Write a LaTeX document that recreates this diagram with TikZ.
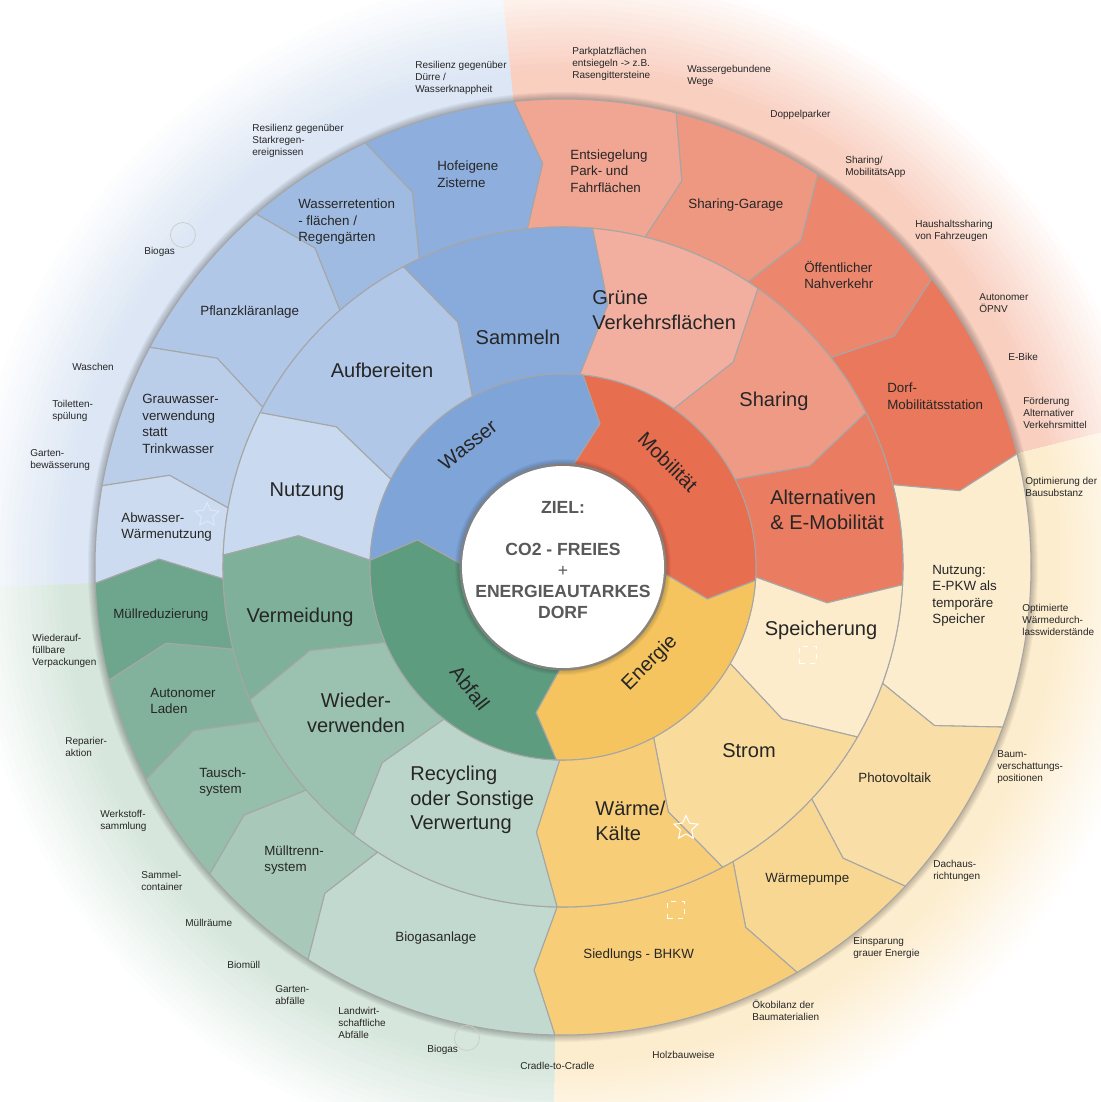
\documentclass[tikz,border=0pt]{standalone}
\usepackage{fontspec}
\setmainfont{Liberation Sans}
\usetikzlibrary{shapes.geometric}

% farben
\definecolor{wasser}{HTML}{7FA4D8}
\definecolor{mobil}{HTML}{E86E50}
\definecolor{energie}{HTML}{F5C45F}
\definecolor{abfall}{HTML}{5E9C80}
\definecolor{wasserhell}{HTML}{DCE6F4}
\definecolor{mobilhell}{HTML}{F9CFC0}
\definecolor{energiehell}{HTML}{FDEDCF}
\definecolor{abfallhell}{HTML}{D6E6DC}

% segment: r innen, r aussen, winkel klein, winkel gross, farbe
\newcommand{\ringseg}[5]{%
  \pgfmathsetmacro\segmid{(#1+#2)/2}%
  \pgfmathsetmacro\segoff{1260/\segmid}%
  \fill[#5, draw=black!35, line width=0.6pt, line join=round] (#3:#1) -- ({#3-\segoff}:\segmid) -- (#3:#2)
    arc[start angle=#3, end angle=#4, radius=#2] -- ({#4-\segoff}:\segmid) -- (#4:#1)
    arc[start angle=#4, end angle=#3, radius=#1] -- cycle;}

\begin{document}
\begin{tikzpicture}[x=0.02cm, y=0.02cm,
  aussen/.style={font=\fontsize{5.7}{6.8}\selectfont, align=left, anchor=west, inner sep=0pt, text=black!85},
  feld/.style={font=\fontsize{7.6}{9.4}\selectfont, align=left, anchor=west, inner sep=0pt, text=black!85},
  bereich/.style={font=\fontsize{11.4}{14}\selectfont, align=left, inner sep=0pt, text=black!85},
  thema/.style={font=\fontsize{11.4}{13}\selectfont, inner sep=0pt, text=black!85},
  kreis/.style={circle, draw=black!20, line width=0.4pt, minimum size=0.5cm, inner sep=0pt},
  stern/.style={star, star points=5, star point ratio=2.1, line width=0.6pt, minimum size=0.5cm, inner sep=0pt},
  kasten/.style={draw=white, dashed, line width=0.8pt, minimum size=0.34cm, inner sep=0pt}]
\useasboundingbox (-563,-535) rectangle (538,567);
\clip (-563,-535) rectangle (538,567);

%aeusserer ring, verblasst
\foreach \aS/\aL/\col in {96/182/wasserhell, 14/96/mobilhell, -91/14/energiehell, 182/269/abfallhell}{
  \foreach \k in {22,21,...,0}{
    \pgfmathsetmacro\rr{468+6*\k}
    \pgfmathtruncatemacro\pp{min(100,max(0,600-\rr))}
    \fill[\col!\pp!white] (0,0) -- (\aS:\rr) arc[start angle=\aS, end angle=\aL, radius=\rr] -- cycle;
  }
}
\foreach \k in {1,...,7}
  \fill[black, opacity=0.035] (0,0) circle (468+\k);

%ring 3
\foreach \aS/\aL/\col in {96/115/wasser!88!white, 115/131/wasser!75!white, 131/152/wasser!62!white, 152/170/wasser!54!white, 170/182/wasser!40!white,
  76/96/mobil!62!white, 57/76/mobil!72!white, 38/57/mobil!83!white, 14/38/mobil!93!white,
  -20/14/energie!30!white, -43/-20/energie!55!white, -60/-43/energie!68!white, -91/-60/energie!85!white,
  182/194/abfall!90!white, 194/207/abfall!78!white, 207/221/abfall!66!white, 221/237/abfall!54!white, 237/269/abfall!38!white}
  {\ringseg{340}{468}{\aS}{\aL}{\col}}

%ring 2
\foreach \aS/\aL/\col in {85/118/wasser!92!white, 118/153/wasser!62!white, 153/178/wasser!42!white,
  55/85/mobil!55!white, 27/55/mobil!70!white, -3/27/mobil!90!white,
  -30/-3/energie!32!white, -62/-30/energie!62!white, -91/-62/energie!85!white,
  178/203/abfall!80!white, 203/232/abfall!62!white, 232/269/abfall!42!white}
  {\ringseg{193}{340}{\aS}{\aL}{\col}}

%ring 1
\foreach \aS/\aL/\col in {84/178/wasser, -4/84/mobil, -92/-4/energie, 178/268/abfall}
  {\ringseg{103}{193}{\aS}{\aL}{\col}}

%mitte
\foreach \k in {1,...,8}
  \fill[black, opacity=0.04] (0,0) circle (100+\k);
\fill[white] (0,0) circle (101);
\node[font=\bfseries\fontsize{10}{11.9}\selectfont, text=black!65, align=center] (ziel) at (0,7)
  {ZIEL:\\[11.9pt]CO2 - FREIES\\{\mdseries +}\\ENERGIEAUTARKES\\DORF};

%themen
\node[thema, rotate=38] (wasser) at (-95,122) {Wasser};
\node[thema, rotate=-45] (mobil) at (105,105) {Mobilität};
\node[thema, rotate=45] (energie) at (87,-96) {Energie};
\node[thema, rotate=-52] (abfall) at (-93,-121) {Abfall};

%bereiche
\node[bereich] (sammeln) at (-45,230) {Sammeln};
\node[bereich] (aufbereiten) at (-181,197) {Aufbereiten};
\node[bereich] (nutzung) at (-256,75) {Nutzung};
\node[bereich] (vermeidung) at (-263,-50) {Vermeidung};
\node[bereich, align=center] (wieder) at (-207,-146) {Wieder-\\verwenden};
\node[bereich, anchor=west] (recycling) at (-153,-233) {Recycling\\oder Sonstige\\Verwertung};
\node[bereich, anchor=west] (waerme) at (32,-254) {Wärme/\\Kälte};
\node[bereich] (strom) at (186,-184) {Strom};
\node[bereich] (speicherung) at (258,-63) {Speicherung};
\node[bereich, anchor=west] (alternativen) at (207,57) {Alternativen\\\& E-Mobilität};
\node[bereich] (sharing) at (211,166) {Sharing};
\node[bereich, anchor=west] (gruene) at (29,257) {Grüne\\Verkehrsflächen};

%felder
\node[feld] (zisterne) at (-126,393) {Hofeigene\\Zisterne};
\node[feld] (retention) at (-265,345) {Wasserretention\\- flächen /\\Regengärten};
\node[feld] (klaeranlage) at (-363,255) {Pflanzkläranlage};
\node[feld] (grauwasser) at (-421,143) {Grauwasser-\\verwendung\\statt\\Trinkwasser};
\node[feld] (abwasser) at (-442,40) {Abwasser-\\Wärmenutzung};
\node[feld] (muellred) at (-450,-48) {Müllreduzierung};
\node[feld] (laden) at (-413,-134) {Autonomer\\Laden};
\node[feld] (tausch) at (-364,-215) {Tausch-\\system};
\node[feld] (muelltrenn) at (-299,-293) {Mülltrenn-\\system};
\node[feld] (biogasanlage) at (-168,-371) {Biogasanlage};
\node[feld] (bhkw) at (20,-388) {Siedlungs - BHKW};
\node[feld] (waermepumpe) at (202,-312) {Wärmepumpe};
\node[feld] (pv) at (295,-211) {Photovoltaik};
\node[feld] (epkw) at (369,-29) {Nutzung:\\E-PKW als\\temporäre\\Speicher};
\node[feld] (station) at (324,171) {Dorf-\\Mobilitätsstation};
\node[feld] (nahverkehr) at (241,292) {Öffentlicher\\Nahverkehr};
\node[feld] (garage) at (125,362) {Sharing-Garage};
\node[feld] (entsiegelung) at (7,396) {Entsiegelung\\Park- und\\Fahrflächen};

%aussen
\node[aussen] (a1) at (-148,489) {Resilienz gegenüber\\Dürre /\\Wasserknappheit};
\node[aussen] (a2) at (-311,426) {Resilienz gegenüber\\Starkregen-\\ereignissen};
\node[aussen] (a3) at (9,503) {Parkplatzflächen\\entsiegeln -> z.B.\\Rasengittersteine};
\node[aussen] (a4) at (124,491) {Wassergebundene\\Wege};
\node[aussen] (a5) at (207,452) {Doppelparker};
\node[aussen] (a6) at (282,400) {Sharing/\\MobilitätsApp};
\node[aussen] (a7) at (352,336) {Haushaltssharing\\von Fahrzeugen};
\node[aussen] (a8) at (416,264) {Autonomer\\ÖPNV};
\node[aussen] (a9) at (445,210) {E-Bike};
\node[aussen] (a10) at (460,154) {Förderung\\Alternativer\\Verkehrsmittel};
\node[aussen] (a11) at (462,80) {Optimierung der\\Bausubstanz};
\node[aussen] (a12) at (459,-53) {Optimierte\\Wärmedurch-\\lasswiderstände};
\node[aussen] (a13) at (434,-200) {Baum-\\verschattungs-\\positionen};
\node[aussen] (a14) at (370,-304) {Dachaus-\\richtungen};
\node[aussen] (a15) at (290,-381) {Einsparung\\grauer Energie};
\node[aussen] (a16) at (189,-443) {Ökobilanz der\\Baumaterialien};
\node[aussen] (a17) at (89,-488) {Holzbauweise};
\node[aussen] (a18) at (-43,-499) {Cradle-to-Cradle};
\node[aussen] (a19) at (-136,-483) {Biogas};
\node[aussen] (a20) at (-225,-456) {Landwirt-\\schaftliche\\Abfälle};
\node[aussen] (a21) at (-288,-428) {Garten-\\abfälle};
\node[aussen] (a22) at (-336,-398) {Biomüll};
\node[aussen] (a23) at (-378,-356) {Müllräume};
\node[aussen] (a24) at (-422,-314) {Sammel-\\container};
\node[aussen] (a25) at (-463,-254) {Werkstoff-\\sammlung};
\node[aussen] (a26) at (-498,-180) {Reparier-\\aktion};
\node[aussen] (a27) at (-531,-84) {Wiederauf-\\füllbare\\Verpackungen};
\node[aussen] (a28) at (-533,107) {Garten-\\bewässerung};
\node[aussen] (a29) at (-511,156) {Toiletten-\\spülung};
\node[aussen] (a30) at (-491,200) {Waschen};
\node[aussen] (a31) at (-419,315) {Biogas};

%symbole
\node[kreis] (kreis1) at (-380,332) {};
\node[kreis] (kreis2) at (-96,-471) {};
\node[stern, draw=wasser!25!white] (stern1) at (-356,52) {};
\node[stern, draw=white] (stern2) at (123,-261) {};
\node[kasten] (kasten1) at (245,-88) {};
\node[kasten] (kasten2) at (113,-343) {};

\end{tikzpicture}
\end{document}
